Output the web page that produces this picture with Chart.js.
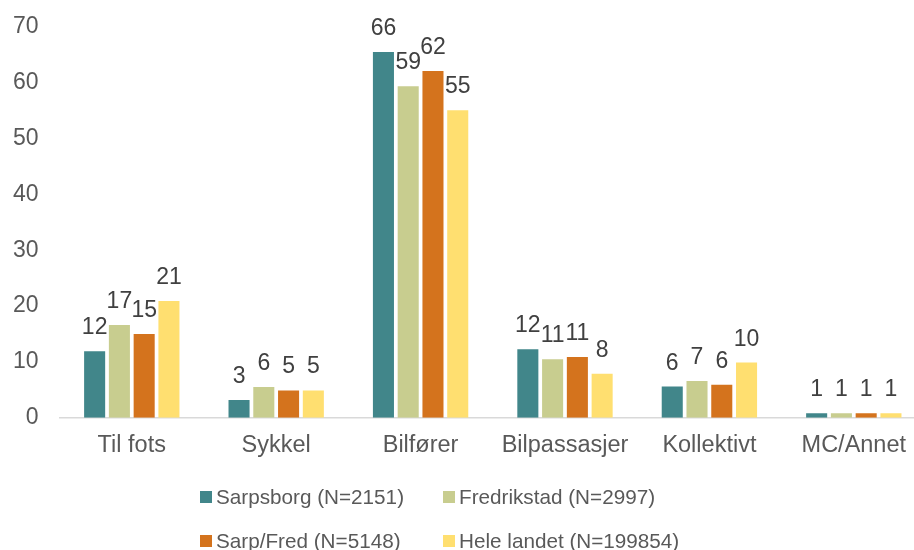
<!DOCTYPE html>
<html>
<head>
<meta charset="utf-8">
<script src="https://cdn.jsdelivr.net/npm/chart.js@4/dist/chart.umd.min.js"></script>
<style>
  html, body { margin: 0; padding: 0; background: #fff; }
  #wrap { position: relative; width: 914px; height: 550px; overflow: hidden; }
  #legend { position: absolute; left: 200px; top: 484px; font-family: "Liberation Sans", Arial, sans-serif;
    font-size: 20.7px; color: #595959; display: grid; grid-template-columns: 243px auto; row-gap: 18px; }
  .item { display: flex; align-items: center; height: 26px; white-space: nowrap; }
  .box { width: 12px; height: 12px; margin-right: 4px; }
</style>
</head>
<body>
<div id="wrap">
  <canvas id="chart" width="926" height="550"></canvas>
  <div id="legend"></div>
</div>
<script>
const categories = ["Til fots", "Sykkel", "Bilfører", "Bilpassasjer", "Kollektivt", "MC/Annet"];
const seriesNames = ["Sarpsborg (N=2151)", "Fredrikstad (N=2997)", "Sarp/Fred (N=5148)", "Hele landet (N=199854)"];
const colors = ["#41868a", "#c8cd8f", "#d4731d", "#ffdf70"];

const sarpsborg   = [11.9, 3.2, 65.5, 12.3, 5.6, 0.8];
const fredrikstad = [16.6, 5.5, 59.4, 10.5, 6.6, 0.8];
const sarpFred    = [15.0, 4.9, 62.1, 10.9, 5.9, 0.8];
const heleLandet  = [20.9, 4.9, 55.1, 7.9, 9.9, 0.8];
const series = [sarpsborg, fredrikstad, sarpFred, heleLandet];

const yTicks = [0, 10, 20, 30, 40, 50, 60, 70];

// value labels above bars
const valueLabels = {
  id: "valueLabels",
  afterDatasetsDraw(chart) {
    const ctx = chart.ctx;
    ctx.save();
    ctx.font = "23px 'Liberation Sans', Arial, sans-serif";
    ctx.fillStyle = "#404040";
    ctx.textAlign = "center";
    ctx.textBaseline = "alphabetic";
    chart.data.datasets.forEach((ds, i) => {
      chart.getDatasetMeta(i).data.forEach((bar, j) => {
        ctx.fillText(Math.round(ds.data[j]), bar.x, bar.y - 17);
      });
    });
    ctx.restore();
  }
};

const ctx = document.getElementById("chart").getContext("2d");
new Chart(ctx, {
  type: "bar",
  data: {
    labels: categories,
    datasets: series.map((s, i) => ({
      label: seriesNames[i],
      data: s,
      backgroundColor: colors[i],
      borderWidth: 0,
      categoryPercentage: 0.686,
      barPercentage: 0.85
    }))
  },
  options: {
    responsive: false,
    animation: false,
    layout: { padding: { left: -8, top: 27, right: 0, bottom: 76 } },
    plugins: { legend: { display: false }, tooltip: { enabled: false } },
    scales: {
      x: {
        grid: { display: false, drawTicks: false },
        border: { color: "#d9d9d9", width: 1.5 },
        ticks: { color: "#595959", padding: 14, font: { family: "'Liberation Sans', Arial, sans-serif", size: 23.5 } }
      },
      y: {
        min: 0,
        max: 70,
        afterBuildTicks: axis => { axis.ticks = yTicks.map(v => ({ value: v })); },
        // tick padding is only meant as horizontal gap here
        afterFit: axis => { axis.paddingTop = 14; axis.paddingBottom = 14; },
        grid: { display: false, drawTicks: false },
        border: { display: false },
        ticks: { color: "#595959", padding: 21, font: { family: "'Liberation Sans', Arial, sans-serif", size: 23 } }
      }
    }
  },
  plugins: [valueLabels]
});

// legend in two columns like the original
const legend = document.getElementById("legend");
seriesNames.forEach((name, i) => {
  const item = document.createElement("div");
  item.className = "item";
  const box = document.createElement("span");
  box.className = "box";
  box.style.background = colors[i];
  item.appendChild(box);
  item.appendChild(document.createTextNode(name));
  legend.appendChild(item);
});
</script>
</body>
</html>
